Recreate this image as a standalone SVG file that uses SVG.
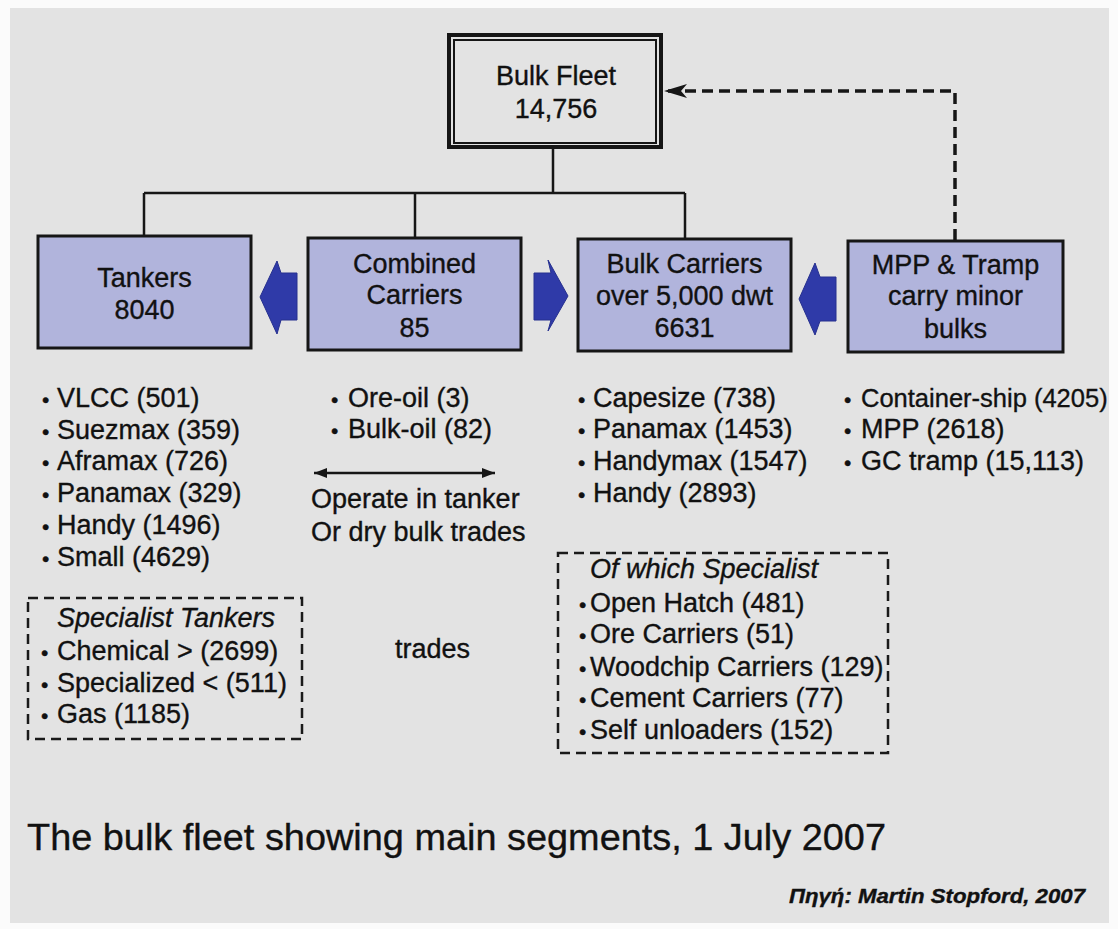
<svg xmlns="http://www.w3.org/2000/svg" width="1118" height="929" viewBox="0 0 1118 929">
  <style>
    .t { font-family: "Liberation Sans", Arial, Helvetica, sans-serif; fill: #111111; stroke: #111111; stroke-width: 0.35; }
    .box-t { font-size: 27px; text-anchor: middle; }
    .lst { font-size: 27px; }
    .b { font-size: 21px; }
    .it { font-style: italic; }
    .node { fill: #b1b4dc; stroke: #161616; stroke-width: 3; }
    .conn { fill: none; stroke: #161616; stroke-width: 2.5; }
    .dash { fill: none; stroke: #161616; stroke-width: 3.5; stroke-dasharray: 11 6; }
    .dbox { fill: none; stroke: #1a1a1a; stroke-width: 2.5; stroke-dasharray: 10 6; }
    .flow { fill: #2f3aa8; stroke: #26308f; stroke-width: 1; }
  </style>
  <defs>
    <marker id="dashHead" viewBox="0 0 24 16" refX="24" refY="8" markerWidth="24" markerHeight="16" markerUnits="userSpaceOnUse" orient="auto">
      <path d="M24,8 L1,1 L7,8 L1,15 Z" fill="#161616"/>
    </marker>
    <marker id="smallHead" viewBox="0 0 13 10" refX="13" refY="5" markerWidth="13" markerHeight="10" markerUnits="userSpaceOnUse" orient="auto-start-reverse">
      <path d="M0,0 L13,5 L0,10 Z" fill="#161616"/>
    </marker>
  </defs>

  <!-- page -->
  <rect x="0" y="0" width="1118" height="929" fill="#fbfbfb"/>
  <rect x="10" y="8" width="1099" height="915" fill="#e3e3e3"/>

  <!-- connectors -->
  <g id="connectors">
    <path class="conn" d="M553,149 V193 M144,193 H685 M144,193 V235 M415,193 V237 M685,193 V238"/>
    <path class="dash" d="M955,240 V91 H664" marker-end="url(#dashHead)"/>
    <path class="conn" stroke-width="3" d="M314,473 H495" marker-start="url(#smallHead)" marker-end="url(#smallHead)"/>
    <polygon id="arrow-combined-tankers" class="flow" points="260,297 277,261 281,273 297,273 297,320 281,320 277,334"/>
    <polygon id="arrow-combined-bulk" class="flow" points="534,273 551,273 548,260 568,296 548,331 551,320 534,320"/>
    <polygon id="arrow-mpp-bulk" class="flow" points="799,299 815,263 820,277 836,277 836,321 820,321 815,335"/>
  </g>

  <!-- top node -->
  <g id="bulk-fleet">
    <rect x="449" y="35" width="212" height="112" fill="#e3e3e3" stroke="#161616" stroke-width="4"/>
    <rect x="454" y="40" width="202" height="103" fill="none" stroke="#161616" stroke-width="2"/>
    <text class="t box-t" x="556" y="85">Bulk Fleet</text>
    <text class="t box-t" x="556" y="118">14,756</text>
  </g>

  <g id="tankers">
    <rect class="node" x="38" y="236" width="213" height="112"/>
    <text class="t box-t" x="144.5" y="287">Tankers</text>
    <text class="t box-t" x="144.5" y="319">8040</text>
  </g>

  <g id="combined-carriers">
    <rect class="node" x="308" y="238" width="213" height="112"/>
    <text class="t box-t" x="414.5" y="273">Combined</text>
    <text class="t box-t" x="414.5" y="304">Carriers</text>
    <text class="t box-t" x="414.5" y="337">85</text>
  </g>

  <g id="bulk-carriers">
    <rect class="node" x="578" y="239" width="213" height="112"/>
    <text class="t box-t" x="684.5" y="273">Bulk Carriers</text>
    <text class="t box-t" x="684.5" y="305">over 5,000 dwt</text>
    <text class="t box-t" x="684.5" y="337">6631</text>
  </g>

  <g id="mpp-tramp">
    <rect class="node" x="848" y="241" width="215" height="111"/>
    <text class="t box-t" x="955.5" y="274">MPP &amp; Tramp</text>
    <text class="t box-t" x="955.5" y="305">carry minor</text>
    <text class="t box-t" x="955.5" y="338">bulks</text>
  </g>

  <!-- tanker list -->
  <g id="tanker-list">
    <text class="t lst" y="407"><tspan class="b" x="42">•</tspan><tspan x="57">VLCC (501)</tspan></text>
    <text class="t lst" y="439"><tspan class="b" x="42">•</tspan><tspan x="57">Suezmax (359)</tspan></text>
    <text class="t lst" y="470"><tspan class="b" x="42">•</tspan><tspan x="57">Aframax (726)</tspan></text>
    <text class="t lst" y="502"><tspan class="b" x="42">•</tspan><tspan x="57">Panamax (329)</tspan></text>
    <text class="t lst" y="534"><tspan class="b" x="42">•</tspan><tspan x="57">Handy (1496)</tspan></text>
    <text class="t lst" y="566"><tspan class="b" x="42">•</tspan><tspan x="57">Small (4629)</tspan></text>
  </g>

  <g id="specialist-tankers">
    <rect class="dbox" x="28" y="598" width="274" height="141"/>
    <text class="t lst it" x="57" y="627">Specialist Tankers</text>
    <text class="t lst" y="660"><tspan class="b" x="41">•</tspan><tspan x="57">Chemical &gt; (2699)</tspan></text>
    <text class="t lst" y="692"><tspan class="b" x="41">•</tspan><tspan x="57">Specialized &lt; (511)</tspan></text>
    <text class="t lst" y="723"><tspan class="b" x="41">•</tspan><tspan x="57">Gas (1185)</tspan></text>
  </g>

  <!-- combined list -->
  <g id="combined-list">
    <text class="t lst" y="407"><tspan class="b" x="331">•</tspan><tspan x="348">Ore-oil (3)</tspan></text>
    <text class="t lst" y="438"><tspan class="b" x="331">•</tspan><tspan x="348">Bulk-oil (82)</tspan></text>
    <text class="t lst" x="311" y="508">Operate in tanker</text>
    <text class="t lst" x="311" y="541">Or dry bulk trades</text>
    <text class="t lst" x="395" y="658">trades</text>
  </g>

  <!-- bulk carrier list -->
  <g id="bulk-list">
    <text class="t lst" y="407"><tspan class="b" x="578">•</tspan><tspan x="593">Capesize (738)</tspan></text>
    <text class="t lst" y="438"><tspan class="b" x="578">•</tspan><tspan x="593">Panamax (1453)</tspan></text>
    <text class="t lst" y="470"><tspan class="b" x="578">•</tspan><tspan x="593">Handymax (1547)</tspan></text>
    <text class="t lst" y="502"><tspan class="b" x="578">•</tspan><tspan x="593">Handy (2893)</tspan></text>
  </g>

  <g id="specialist-bulk">
    <rect class="dbox" x="558" y="553" width="330" height="200"/>
    <text class="t lst it" x="590" y="578">Of which Specialist</text>
    <text class="t lst" y="612"><tspan class="b" x="579">•</tspan><tspan x="590">Open Hatch (481)</tspan></text>
    <text class="t lst" y="643"><tspan class="b" x="579">•</tspan><tspan x="590">Ore Carriers (51)</tspan></text>
    <text class="t lst" y="676"><tspan class="b" x="579">•</tspan><tspan x="590">Woodchip Carriers (129)</tspan></text>
    <text class="t lst" y="707"><tspan class="b" x="579">•</tspan><tspan x="590">Cement Carriers (77)</tspan></text>
    <text class="t lst" y="739"><tspan class="b" x="579">•</tspan><tspan x="590">Self unloaders (152)</tspan></text>
  </g>

  <!-- MPP list -->
  <g id="mpp-list">
    <text class="t lst" y="407"><tspan class="b" x="844">•</tspan><tspan x="861" font-size="25.5">Container-ship (4205)</tspan></text>
    <text class="t lst" y="438"><tspan class="b" x="844">•</tspan><tspan x="861">MPP (2618)</tspan></text>
    <text class="t lst" y="470"><tspan class="b" x="844">•</tspan><tspan x="861">GC tramp (15,113)</tspan></text>
  </g>

  <!-- caption -->
  <text class="t" x="27" y="850" font-size="36" stroke-width="0" textLength="859" lengthAdjust="spacingAndGlyphs" fill="#1c1c1c">The bulk fleet showing main segments, 1 July 2007</text>
  <text class="t" x="789" y="903" font-size="20" font-weight="bold" font-style="italic" textLength="296" lengthAdjust="spacingAndGlyphs">Πηγή: Martin Stopford, 2007</text>
</svg>
